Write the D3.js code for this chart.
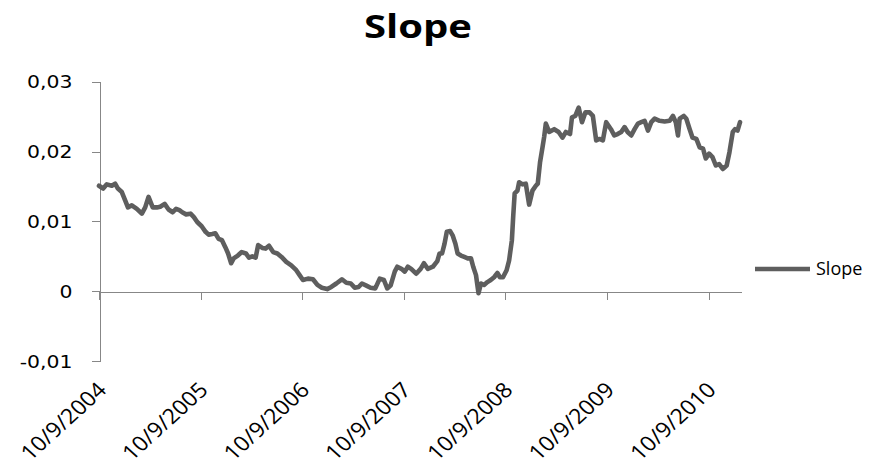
<!DOCTYPE html>
<html>
<head>
<meta charset="utf-8">
<script src="https://cdn.jsdelivr.net/npm/d3@7"></script>
<style>
  html, body { margin: 0; padding: 0; background: #fff; }
  svg { display: block; }
</style>
</head>
<body>
<svg id="chart" width="878" height="466"></svg>
<script>
// Series: daily slope estimate, sampled
const dates = [
  "2004-09-10","2004-09-25","2004-10-08","2004-10-26","2004-11-07","2004-11-17","2004-12-01","2004-12-13","2004-12-23",
  "2005-01-06","2005-01-24","2005-02-11","2005-02-23","2005-03-07","2005-03-22","2005-04-06","2005-04-18","2005-05-04",
  "2005-05-18","2005-06-02","2005-06-14","2005-06-26","2005-07-06","2005-07-20","2005-08-05","2005-08-17","2005-08-29",
  "2005-09-14","2005-09-28","2005-10-09","2005-10-22","2005-11-02","2005-11-14","2005-11-26","2005-12-08","2005-12-18",
  "2005-12-29","2006-01-07","2006-01-22","2006-02-05","2006-02-20","2006-03-03","2006-03-15","2006-03-27","2006-04-05",
  "2006-04-20","2006-05-02","2006-05-14","2006-05-29","2006-06-13","2006-06-28","2006-07-15","2006-08-02","2006-08-20",
  "2006-09-01","2006-09-13","2006-10-01","2006-10-19","2006-11-04","2006-11-20","2006-12-09","2006-12-24","2007-01-11",
  "2007-01-31","2007-02-16","2007-03-04","2007-03-18","2007-04-01","2007-04-13","2007-04-29","2007-05-14","2007-05-31",
  "2007-06-16","2007-07-01","2007-07-13","2007-07-25","2007-08-09","2007-08-18","2007-09-02","2007-09-14","2007-09-25",
  "2007-10-07","2007-10-25","2007-11-10","2007-11-22","2007-12-06","2007-12-24","2008-01-09","2008-01-17","2008-01-26",
  "2008-02-04","2008-02-12","2008-02-24","2008-03-04","2008-03-14","2008-03-22","2008-04-03","2008-04-15","2008-04-27",
  "2008-05-09","2008-05-17","2008-05-27","2008-06-05","2008-06-14","2008-06-25","2008-07-07","2008-07-19","2008-07-31",
  "2008-08-12","2008-08-21","2008-09-01","2008-09-14","2008-09-23","2008-10-03","2008-10-08","2008-10-13","2008-10-23",
  "2008-10-29","2008-11-10","2008-11-22","2008-12-04","2008-12-16","2008-12-28","2009-01-04","2009-01-12","2009-01-21",
  "2009-01-27","2009-02-02","2009-02-14","2009-03-04","2009-03-20","2009-04-03","2009-04-15","2009-04-30","2009-05-07",
  "2009-05-19","2009-05-31","2009-06-12","2009-06-24","2009-07-09","2009-07-21","2009-08-02","2009-08-14","2009-08-26",
  "2009-09-07","2009-09-24","2009-10-06","2009-10-18","2009-10-31","2009-11-12","2009-11-23","2009-12-06","2009-12-18",
  "2009-12-30","2010-01-11","2010-01-23","2010-02-04","2010-02-16","2010-02-28","2010-03-18","2010-04-05","2010-04-23",
  "2010-05-05","2010-05-15","2010-05-23","2010-05-29","2010-06-13","2010-06-22","2010-07-04","2010-07-14","2010-07-28",
  "2010-08-09","2010-08-21","2010-08-31","2010-09-12","2010-09-24","2010-10-06","2010-10-18","2010-10-31","2010-11-14",
  "2010-11-24","2010-12-06","2010-12-14","2010-12-23","2011-01-01"
];
const slope = [
  0.0151,0.0147,0.0153,0.0151,0.0154,0.0147,0.0142,0.0130,0.0120,
  0.0123,0.0118,0.0111,0.0120,0.0135,0.0120,0.0120,0.0121,0.0125,
  0.0117,0.0113,0.0118,0.0116,0.0113,0.0110,0.0111,0.0106,0.0099,
  0.0093,0.0085,0.0081,0.0082,0.0083,0.0075,0.0073,0.0063,0.0054,
  0.0040,0.0047,0.0051,0.0056,0.0054,0.0048,0.0050,0.0048,0.0066,
  0.0062,0.0061,0.0065,0.0056,0.0054,0.0049,0.0042,0.0037,0.0030,
  0.0023,0.0016,0.0018,0.0017,0.0009,0.0005,0.0003,0.0006,0.0011,
  0.0017,0.0012,0.0011,0.0005,0.0006,0.0011,0.0008,0.0005,0.0004,
  0.0018,0.0016,0.0004,0.0008,0.0028,0.0035,0.0032,0.0028,0.0035,
  0.0032,0.0025,0.0032,0.0040,0.0032,0.0035,0.0043,0.0054,0.0054,
  0.0068,0.0085,0.0086,0.0080,0.0068,0.0054,0.0051,0.0049,0.0047,
  0.0047,0.0035,0.0023,-0.0003,0.0011,0.0009,0.0013,0.0016,0.0020,
  0.0026,0.0020,0.0020,0.0030,0.0044,0.0073,0.0109,0.0140,0.0144,
  0.0156,0.0153,0.0154,0.0124,0.0144,0.0151,0.0154,0.0184,0.0206,
  0.0221,0.0240,0.0228,0.0232,0.0228,0.0220,0.0228,0.0225,0.0249,
  0.0251,0.0263,0.0242,0.0256,0.0256,0.0251,0.0216,0.0218,0.0216,
  0.0242,0.0232,0.0223,0.0225,0.0228,0.0235,0.0228,0.0223,0.0232,
  0.0240,0.0242,0.0244,0.0230,0.0242,0.0247,0.0244,0.0243,0.0244,
  0.0251,0.0242,0.0223,0.0247,0.0251,0.0247,0.0232,0.0220,0.0218,
  0.0206,0.0204,0.0190,0.0197,0.0192,0.0180,0.0182,0.0175,0.0180,
  0.0199,0.0228,0.0232,0.0230,0.0242
];
const xDomain = ["2004-09-10", "2011-01-07"];
const xTickLabels = ["10/9/2004","10/9/2005","10/9/2006","10/9/2007","10/9/2008","10/9/2009","10/9/2010"];
const yTicks = [-0.01, 0, 0.01, 0.02, 0.03];
const chartTitle = "Slope";
const seriesName = "Slope";

const parseISO = d3.timeParse("%Y-%m-%d");
const parseLabel = d3.timeParse("%d/%m/%Y");
const data = dates.map((d, i) => ({ date: parseISO(d), value: slope[i] }));

const svg = d3.select("#chart");
const lineColor = "#5e5e5e";
const axisColor = "#878787";

const x = d3.scaleTime().domain(xDomain.map(parseISO)).range([99, 741.7]);
const y = d3.scaleLinear().domain([-0.01, 0.03]).range([361, 81.7]);

const locale = d3.formatLocale({ decimal: ",", thousands: ".", grouping: [3], currency: ["", "€"], minus: "-" });
const fmt = locale.format(".2~f");

// Y axis
const yAxis = svg.append("g")
  .attr("transform", "translate(99.5,0)")
  .call(d3.axisLeft(y).tickValues(yTicks).tickSize(8).tickSizeOuter(0).tickFormat(fmt));
yAxis.select(".domain").attr("stroke", axisColor).attr("shape-rendering", "crispEdges");
yAxis.selectAll(".tick line").attr("stroke", axisColor).attr("shape-rendering", "crispEdges");
yAxis.selectAll(".tick text")
  .attr("x", -22.5)
  .attr("dy", "0.36em")
  .attr("transform", "scale(1.2,1)")
  .attr("fill", "#000")
  .style("font-family", "'DejaVu Sans', sans-serif")
  .style("font-size", "17px");

// X axis along zero
const tickDates = xTickLabels.map(parseLabel);
const xAxis = svg.append("g")
  .attr("transform", `translate(0,${Math.round(y(0)) + 0.5})`)
  .call(d3.axisBottom(x).tickValues(tickDates).tickSize(8).tickSizeOuter(0).tickFormat(""));
xAxis.select(".domain").attr("stroke", axisColor).attr("shape-rendering", "crispEdges");
xAxis.selectAll(".tick line").attr("stroke", axisColor).attr("shape-rendering", "crispEdges");
xAxis.selectAll(".tick text").remove();

// Rotated date labels below the plot
svg.append("g").selectAll("g")
  .data(xTickLabels)
  .join("g")
  .attr("transform", d => `translate(${x(parseLabel(d)) + 3},386) scale(1.1,1) rotate(-45)`)
  .append("text")
  .attr("text-anchor", "end")
  .attr("dy", "0.35em")
  .attr("fill", "#000")
  .style("font-family", "'Open Sans', sans-serif")
  .style("font-size", "21px")
  .text(d => d);

// Series line
const line = d3.line().x(d => x(d.date)).y(d => y(d.value));
svg.append("path")
  .datum(data)
  .attr("d", line)
  .attr("fill", "none")
  .attr("stroke", lineColor)
  .attr("stroke-width", 4.6)
  .attr("stroke-linejoin", "round")
  .attr("stroke-linecap", "round");

// Title
svg.append("g")
  .attr("transform", "translate(418,38) scale(1.25,1)")
  .append("text")
  .attr("text-anchor", "middle")
  .attr("fill", "#000")
  .style("font-family", "'Open Sans', sans-serif")
  .style("font-weight", "700")
  .style("font-size", "32px")
  .text(chartTitle);

// Legend
const legend = svg.append("g").attr("transform", "translate(755,269)");
legend.append("line")
  .attr("x1", 0).attr("x2", 55).attr("y1", 0).attr("y2", 0)
  .attr("stroke", lineColor).attr("stroke-width", 4.6);
legend.append("text")
  .attr("x", 61)
  .attr("dy", "0.35em")
  .attr("fill", "#000")
  .style("font-family", "'Open Sans', sans-serif")
  .style("font-size", "18px")
  .text(seriesName);
</script>
</body>
</html>
